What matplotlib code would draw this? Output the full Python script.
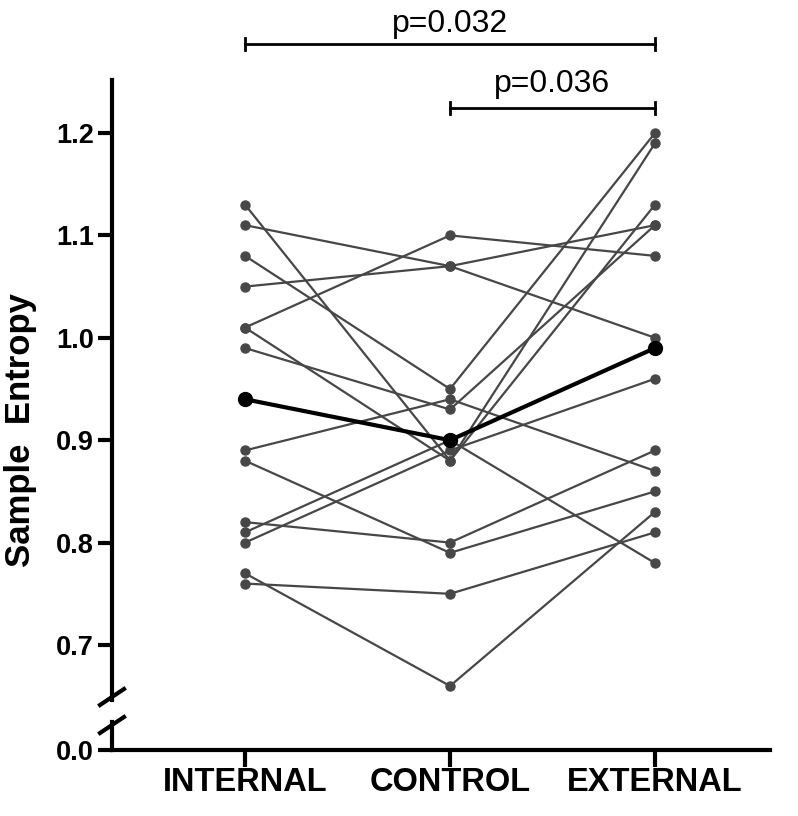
import matplotlib.pyplot as plt

plt.rcParams['font.family'] = ['Liberation Sans', 'DejaVu Sans']

groups = ["INTERNAL", "CONTROL", "EXTERNAL"]
# one entry per subject, same order in each list
internal = [1.13, 1.11, 1.08, 1.05, 1.01, 1.01, 0.99, 0.89, 0.88, 0.82, 0.81, 0.80, 0.77, 0.76]
control = [0.88, 1.07, 0.95, 1.07, 1.10, 0.88, 0.93, 0.94, 0.79, 0.80, 0.90, 0.89, 0.66, 0.75]
external = [1.13, 1.00, 1.20, 1.11, 1.08, 1.19, 1.11, 0.87, 0.85, 0.89, 0.78, 0.96, 0.83, 0.81]
mean_vals = [0.94, 0.90, 0.99]
yticks = [0.7, 0.8, 0.9, 1.0, 1.1, 1.2]
p_labels = ["p=0.032", "p=0.036"]
p_pairs = [(0, 2), (1, 2)]

W, H = 798, 816
fig = plt.figure(figsize=(W / 100, H / 100), dpi=100)

def box(x0, y0, x1, y1):
    # pixel box (top-left origin) -> figure fraction rect
    return [x0 / W, 1 - y1 / H, (x1 - x0) / W, (y1 - y0) / H]

ax = fig.add_axes(box(112, 80, 770, 700))
axb = fig.add_axes(box(112, 722, 770, 750))

xs = [0, 1, 2]
for a, b, c in zip(internal, control, external):
    ax.plot(xs, [a, b, c], color="#474747", lw=1.6, marker="o", ms=6.5, zorder=2)
ax.plot(xs, mean_vals, color="black", lw=3, marker="o", ms=10, zorder=3)

px = 1024.0  # pixels per unit on the y scale
ax.set_ylim(1.2 - 567 / px, 1.2 + 53 / px)
ax.set_xlim(-0.649, 2.561)
axb.set_xlim(-0.649, 2.561)
axb.set_ylim(0, 0.05)

for a in (ax, axb):
    for s in ["top", "right"]:
        a.spines[s].set_visible(False)
    a.spines["left"].set_linewidth(3)
    a.tick_params(axis="y", length=10, width=3, pad=3, labelsize=19.5)
    a.patch.set_alpha(0)
ax.spines["bottom"].set_visible(False)
ax.set_xticks([])
ax.set_yticks(yticks)
ax.set_yticklabels([f"{v:.1f}" for v in yticks], fontweight="bold")
axb.spines["bottom"].set_linewidth(3)
axb.set_yticks([0.0])
axb.set_yticklabels(["0.0"], fontweight="bold")
axb.set_xticks(xs)
axb.set_xticklabels(groups, fontweight="bold", fontsize=23.5)
axb.tick_params(axis="x", length=12, width=3, pad=0)

# axis break marks
for yc in (697, 725):
    fig.add_artist(plt.Line2D([100 / W, 124 / W], [1 - (yc + 8) / H, 1 - (yc - 8) / H],
                              color="black", lw=3))

# significance brackets
br_y = [1.2 + 89 / px, 1.2 + 25 / px]
txt_y = [1.2 + 101 / px, 1.2 + 41 / px]
for (i, j), lab, by, ty in zip(p_pairs, p_labels, br_y, txt_y):
    ax.plot([i, j], [by, by], color="black", lw=2, clip_on=False)
    for k in (i, j):
        ax.plot([k, k], [by - 6 / px, by + 6 / px], color="black", lw=2, clip_on=False)
    ax.text((i + j) / 2, ty, lab, ha="center", va="baseline", fontsize=23, clip_on=False)

fig.text(21 / W, 1 - 430 / H, "Sample  Entropy", rotation=90, ha="center", va="center",
         fontsize=25, fontweight="bold")

fig.savefig("out.png", dpi=100)
